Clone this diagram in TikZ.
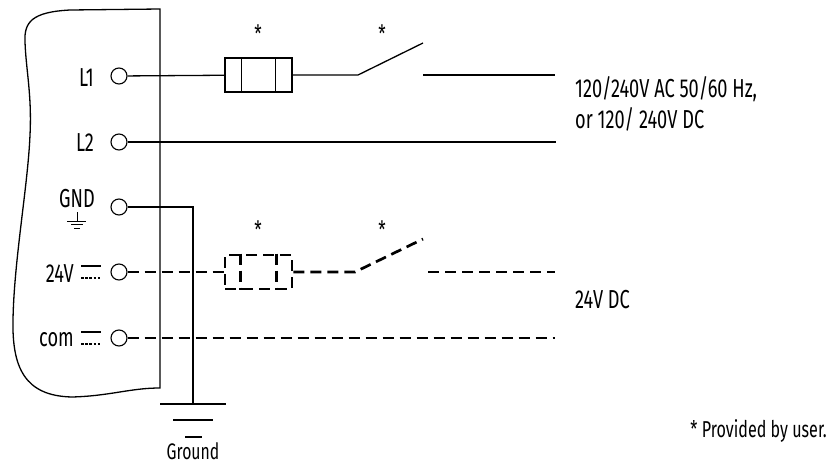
\documentclass[tikz,border=0pt]{standalone}
\usepackage{fontspec}
\setmainfont{Fira Sans}[FakeStretch=0.7]
\usetikzlibrary{calc}
\begin{document}
\begin{tikzpicture}[x=1pt,y=-1pt,
  wire/.style={line width=1.3pt},
  dwire/.style={line width=2.7pt, dash pattern=on 11pt off 6pt},
  term/.style={circle,draw,line width=1.1pt,minimum size=16pt,inner sep=0pt},
  lbl/.style={font=\fontsize{26}{30}\selectfont,inner sep=0pt},
  slbl/.style={font=\fontsize{23}{26}\selectfont,inner sep=0pt},
  star/.style={font=\fontsize{24}{25}\selectfont,inner sep=0pt,anchor=north},
  fuse/.style={rectangle,draw,minimum width=67pt,minimum height=34pt,inner sep=0pt},
  gline/.style={line width=1.3pt}]
\useasboundingbox (0,0) rectangle (831,466);

% device outline
\draw[line width=1.3pt] (160,9) -- (70,10) .. controls (32,12) and (24,22) .. (25,42)
  .. controls (26,70) and (32,95) .. (30,135)
  .. controls (28,185) and (14,260) .. (13,320)
  .. controls (12,368) and (25,396) .. (72,397)
  .. controls (110,396) and (130,388) .. (160,388) -- cycle;

% terminals
\node[term] (t1) at (119,76) {};
\node[term] (t2) at (119,142) {};
\node[term] (tg) at (119,207) {};
\node[term] (t24) at (119,272) {};
\node[term] (tc) at (119,338) {};

% labels
\node[lbl,anchor=east] (lL1) at (94,78) {L1};
\node[lbl,anchor=east] (lL2) at (94,143) {L2};
\node[lbl,anchor=base] (lG) at (77,207) {GND};
\node[lbl,anchor=east] (l24) at (74,274) {24V};
\node[lbl,anchor=east] (lc) at (74,340) {com};

% earth symbol under GND
\draw[line width=1pt] (77,212) -- (77,221);
\draw[line width=1pt] (67,221) -- (86,221);
\draw[line width=1pt] (71,224.5) -- (83,224.5);
\draw[line width=1pt] (74,228) -- (80,228);

% DC symbols
\draw[line width=1.2pt] (81,266) -- (101,266);
\draw[line width=1.8pt,dash pattern=on 2.6pt off 1.6pt] (81,278) -- (101,278);
\draw[line width=1.2pt] (81,332) -- (101,332);
\draw[line width=1.8pt,dash pattern=on 2.6pt off 1.6pt] (81,344) -- (101,344);

% L1 circuit
\node[fuse,line width=1.3pt] (f1) at (258.5,75) {};
\draw[wire] ($(f1.north west)+(17,0)$) -- ($(f1.south west)+(17,0)$);
\draw[wire] ($(f1.north east)+(-17,0)$) -- ($(f1.south east)+(-17,0)$);
\coordinate (s1a) at (358,75);
\coordinate (s1b) at (423,43);
\coordinate (s1c) at (423,75);
\coordinate (e1) at (555,75);
\draw[wire] (t1) -- (f1);
\draw[wire] (f1) -- (s1a) -- (s1b);
\draw[wire] (s1c) -- (e1);
\node[star] (a1) at (258,25) {*};
\node[star] (a2) at (382,25) {*};

% L2
\coordinate (e2) at (555,141);
\draw[wire] (t2) -- (t2 -| e2) -- (e2);

% GND wire to ground
\coordinate (gb) at (193,404);
\draw[wire] (tg) -| (gb);
\draw[gline] (160,404) -- (226,404);
\draw[gline] (173,420) -- (213,420);
\draw[gline] (185,437) -- (202,437);
\node[lbl,anchor=base,font=\fontsize{22.5}{26}\selectfont] (lgr) at (193,459) {Ground};

% 24V circuit (dashed)
\node[fuse,dwire] (f2) at (258.5,272) {};
\draw[dwire] ($(f2.north west)+(17,0)$) -- ($(f2.south west)+(17,0)$);
\draw[dwire] ($(f2.north east)+(-17,0)$) -- ($(f2.south east)+(-17,0)$);
\coordinate (s2a) at (355,272);
\coordinate (s2b) at (423,239);
\coordinate (s2c) at (428,272);
\coordinate (e3) at (555,272);
\draw[dwire] (t24) -- (f2);
\draw[dwire] (f2) -- (s2a) -- (s2b);
\draw[dwire] (s2c) -- (e3);
\node[star] (a3) at (258,221) {*};
\node[star] (a4) at (382,221) {*};

% com
\coordinate (e4) at (555,338);
\draw[dwire] (tc) -- (e4);

% right-hand texts
\node[lbl,anchor=base west] (tx1) at (575,97) {120/240V AC 50/60 Hz,};
\node[lbl,anchor=base west] (tx2) at (575,128) {or 120/ 240V DC};
\node[lbl,anchor=base west] (tx3) at (575,308) {24V DC};
\node[slbl,anchor=base east] (tx4) at (827,437) {* Provided by user.};
\end{tikzpicture}
\end{document}
